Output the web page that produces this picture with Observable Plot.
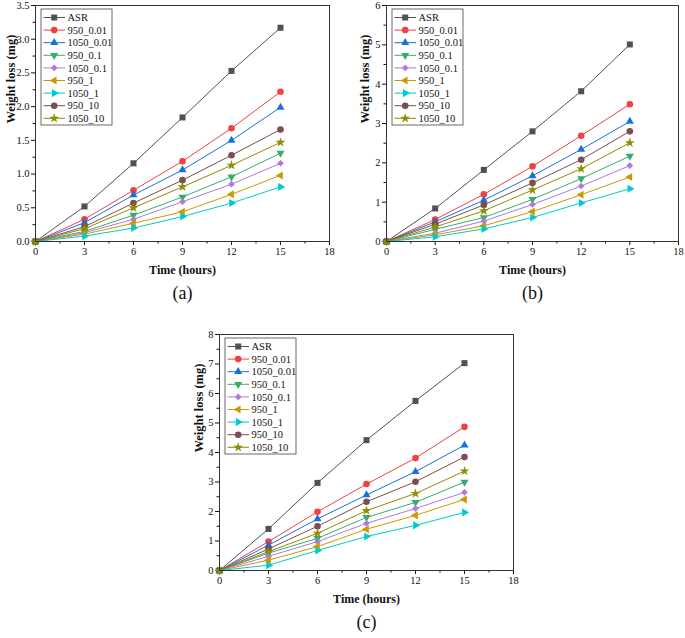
<!DOCTYPE html>
<html>
<head>
<meta charset="utf-8">
<script src="https://cdn.jsdelivr.net/npm/d3@7"></script>
<script src="https://cdn.jsdelivr.net/npm/@observablehq/plot@0.6"></script>
<style>
  html, body { margin: 0; padding: 0; background: #fff; }
  #fig { position: relative; width: 685px; height: 638px; overflow: hidden; background: #fff; }
  .panel { position: absolute; width: 340px; height: 310px; }
  .panel svg { max-width: none !important; width: 340px !important; height: 310px !important; }
</style>
</head>
<body>
<div id="fig"></div>
<script>
// ---- data ----
const times = [0, 3, 6, 9, 12, 15];
const seriesNames = ["ASR", "950_0.01", "1050_0.01", "950_0.1", "1050_0.1", "950_1", "1050_1", "950_10", "1050_10"];
const seriesColors = ["#515151", "#F14040", "#1A6FDF", "#37AD6B", "#B177DE", "#CC9900", "#00CBCC", "#7D4E4E", "#8E8E00"];
const xTicks = [0, 3, 6, 9, 12, 15, 18];
const panelLabels = ["(a)", "(b)", "(c)"];

// weight loss (mg), one row per series, columns follow `times`
const lossA = [
  [0, 0.52, 1.16, 1.84, 2.53, 3.17],
  [0, 0.33, 0.76, 1.19, 1.68, 2.22],
  [0, 0.28, 0.69, 1.06, 1.50, 1.99],
  [0, 0.15, 0.39, 0.66, 0.96, 1.31],
  [0, 0.13, 0.33, 0.59, 0.85, 1.16],
  [0, 0.11, 0.27, 0.44, 0.70, 0.98],
  [0, 0.08, 0.20, 0.37, 0.57, 0.81],
  [0, 0.22, 0.57, 0.91, 1.28, 1.66],
  [0, 0.19, 0.50, 0.81, 1.13, 1.47]
];
const lossB = [
  [0, 0.84, 1.82, 2.80, 3.82, 5.01],
  [0, 0.56, 1.20, 1.91, 2.69, 3.49],
  [0, 0.50, 1.05, 1.67, 2.34, 3.05],
  [0, 0.31, 0.61, 1.07, 1.60, 2.17],
  [0, 0.21, 0.52, 0.94, 1.41, 1.93],
  [0, 0.17, 0.40, 0.76, 1.19, 1.64],
  [0, 0.12, 0.32, 0.61, 0.98, 1.34],
  [0, 0.44, 0.93, 1.49, 2.08, 2.80],
  [0, 0.37, 0.78, 1.31, 1.85, 2.51]
];
const lossC = [
  [0, 1.41, 2.97, 4.42, 5.75, 7.03],
  [0, 0.98, 1.99, 2.93, 3.81, 4.87],
  [0, 0.86, 1.75, 2.56, 3.35, 4.25],
  [0, 0.59, 1.09, 1.80, 2.31, 3.00],
  [0, 0.48, 0.98, 1.60, 2.10, 2.65],
  [0, 0.35, 0.81, 1.40, 1.87, 2.41],
  [0, 0.18, 0.68, 1.15, 1.53, 1.97],
  [0, 0.73, 1.50, 2.33, 3.01, 3.85],
  [0, 0.64, 1.26, 2.03, 2.61, 3.37]
];
const yTicksA = [0, 0.5, 1.0, 1.5, 2.0, 2.5, 3.0, 3.5];
const yTicksB = [0, 1, 2, 3, 4, 5, 6];
const yTicksC = [0, 1, 2, 3, 4, 5, 6, 7, 8];

// ---- symbols ----
function rotatedTriangle(angleDeg) {
  const a = angleDeg * Math.PI / 180, c = Math.cos(a), s = Math.sin(a);
  const sqrt3 = Math.sqrt(3);
  return {
    draw(ctx, size) {
      const y = -Math.sqrt(size / (sqrt3 * 3));
      const pts = [[0, y * 2], [-sqrt3 * y, -y], [sqrt3 * y, -y]];
      pts.forEach(([px, py], i) => {
        const rx = px * c - py * s, ry = px * s + py * c;
        if (i === 0) ctx.moveTo(rx, ry); else ctx.lineTo(rx, ry);
      });
      ctx.closePath();
    }
  };
}
const seriesSymbols = [
  d3.symbolSquare, d3.symbolCircle, rotatedTriangle(0), rotatedTriangle(180),
  d3.symbolDiamond2, rotatedTriangle(-90), rotatedTriangle(90), d3.symbolCircle, d3.symbolStar
];
const symbolR = [3.4, 3.3, 3.0, 3.0, 3.0, 3.0, 3.0, 3.3, 3.1];

const FONT = "'Liberation Serif', 'Times New Roman', serif";

function panel(loss, yMax, yTicks, yMinorStep, yFmt, label, left, top, yLabelDx, mR) {
  const W = 340, H = 310;
  const mL = 35, mT = 5, mB = H - 241;
  const rows = [];
  loss.forEach((vals, si) => vals.forEach((v, ti) => rows.push({series: seriesNames[si], si, t: times[ti], v})));
  const yMinor = d3.range(yMinorStep, yMax, yMinorStep).filter(v => !yTicks.some(t => Math.abs(t - v) < 1e-9));
  const xMinor = d3.range(1.5, 18, 3);
  const marks = [
    Plot.axisX(xTicks, {tickSize: 4, tickPadding: 2, label: null, fontSize: 10.5}),
    Plot.axisX(xMinor, {tickSize: 2.5, tickFormat: () => "", label: null}),
    Plot.axisY(yTicks, {tickSize: 4, tickPadding: 2, label: null, tickFormat: yFmt, fontSize: 10.5}),
    Plot.axisY(yMinor, {tickSize: 2.5, tickFormat: () => "", label: null}),
  ];
  seriesNames.forEach((name, si) => {
    const d = rows.filter(r => r.si === si);
    marks.push(Plot.line(d, {x: "t", y: "v", stroke: seriesColors[si], strokeWidth: 1}));
  });
  seriesNames.forEach((name, si) => {
    const d = rows.filter(r => r.si === si);
    marks.push(Plot.dot(d, {x: "t", y: "v", fill: seriesColors[si], symbol: seriesSymbols[si], r: symbolR[si], stroke: "none"}));
  });
  marks.push(Plot.frame({stroke: "#333", strokeWidth: 1}));
  marks.push(Plot.text(["Time (hours)"], {frameAnchor: "bottom", dy: 32, fontSize: 12, fontWeight: "bold", fill: "#111"}));
  marks.push(Plot.text(["Weight loss (mg)"], {frameAnchor: "left", dx: yLabelDx, rotate: -90, fontSize: 12.5, fontWeight: "bold", fill: "#111"}));
  marks.push(Plot.text([label], {frameAnchor: "bottom", dy: 57, fontSize: 18, fill: "#111"}));

  const svg = Plot.plot({
    width: W, height: H,
    marginLeft: mL, marginRight: mR, marginTop: mT, marginBottom: mB,
    style: {fontFamily: FONT, fontSize: "10px", color: "#111", background: "transparent", overflow: "visible", maxWidth: "none"},
    x: {domain: [0, 18]},
    y: {domain: [0, yMax]},
    marks
  });

  // legend box inside the frame (top-left)
  const g = d3.select(svg).append("g").attr("font-family", FONT).attr("font-size", 10.5).attr("text-anchor", "start");
  const bx = mL + 6, by = mT + 4, bw = 71, bh = 116;
  g.append("rect").attr("x", bx).attr("y", by).attr("width", bw).attr("height", bh)
    .attr("fill", "white").attr("stroke", "#444").attr("stroke-width", 0.8);
  seriesNames.forEach((name, si) => {
    const cy = by + 8.5 + si * 12.6;
    g.append("line").attr("x1", bx + 2.5).attr("x2", bx + 24).attr("y1", cy).attr("y2", cy)
      .attr("stroke", seriesColors[si]).attr("stroke-width", 1);
    g.append("path").attr("transform", `translate(${bx + 13.2},${cy})`)
      .attr("d", d3.symbol(seriesSymbols[si], Math.PI * symbolR[si] * symbolR[si])())
      .attr("fill", seriesColors[si]);
    g.append("text").attr("x", bx + 26.5).attr("y", cy).attr("dy", "0.35em").attr("fill", "#111")
      .attr("text-anchor", "start").text(name);
  });

  const wrap = document.createElement("div");
  wrap.className = "panel";
  wrap.style.left = left + "px";
  wrap.style.top = top + "px";
  wrap.appendChild(svg);
  document.getElementById("fig").appendChild(wrap);
}

panel(lossA, 3.5, yTicksA, 0.25, d => d.toFixed(1), panelLabels[0], 0, 0, -25, 11);
panel(lossB, 6, yTicksB, 0.5, d => d.toFixed(0), panelLabels[1], 351, 0, -22, 13);
panel(lossC, 8, yTicksC, 0.5, d => d.toFixed(0), panelLabels[2], 184, 329, -21, 11);
</script>
</body>
</html>
